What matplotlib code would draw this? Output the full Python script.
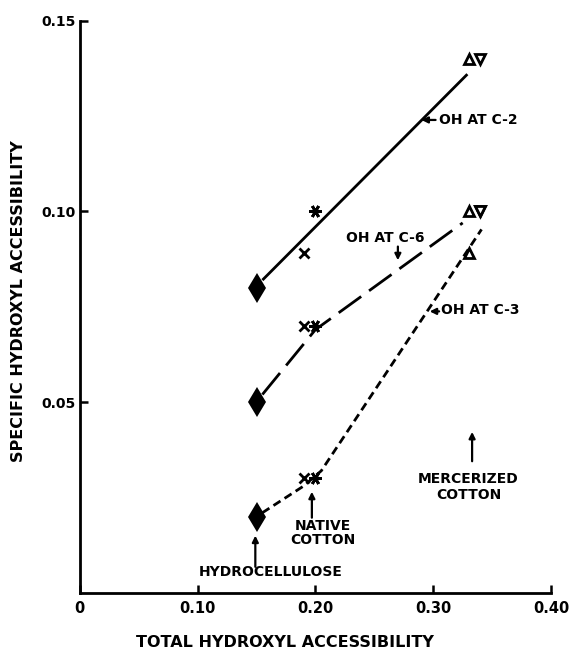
import matplotlib
matplotlib.use("Agg")
import matplotlib.pyplot as plt

plt.rcParams['font.family'] = ['DejaVu Sans']
plt.rcParams['font.weight'] = 'bold'
plt.rcParams['lines.scale_dashes'] = False

# ---- data ----
x_hydro = 0.15
x_native_a = 0.19
x_native_b = 0.20
x_merc_a = 0.33
x_merc_b = 0.34

c2_points = {"hydro": 0.080, "native_a": 0.089, "native_b": 0.100, "merc_a": 0.140, "merc_b": 0.140}
c6_points = {"hydro": 0.050, "native_a": 0.070, "native_b": 0.070, "merc_a": 0.100, "merc_b": 0.100}
c3_points = {"hydro": 0.020, "native_a": 0.030, "native_b": 0.030, "merc_a": 0.089, "merc_b": 0.100}

c2_line_x = [0.155, 0.329]
c2_line_y = [0.082, 0.136]
c6_line_x = [0.155, 0.200, 0.325]
c6_line_y = [0.052, 0.069, 0.097]
c3_line_x = [0.155, 0.190, 0.205, 0.341]
c3_line_y = [0.021, 0.028, 0.032, 0.0953]

x_ticks = [0, 0.10, 0.20, 0.30, 0.40]
x_ticklabels = ["0", "0.10", "0.20", "0.30", "0.40"]
y_ticks = [0.05, 0.10, 0.15]
y_ticklabels = ["0.05", "0.10", "0.15"]

fig = plt.figure(figsize=(5.74, 6.5), dpi=100)
ax = fig.add_axes([0.139, 0.088, 0.821, 0.880])
ax.set_xlim(0, 0.40)
ax.set_ylim(0, 0.15)

for s in ['top', 'right']:
    ax.spines[s].set_visible(False)
for s in ['left', 'bottom']:
    ax.spines[s].set_linewidth(2.0)

ax.set_xticks(x_ticks)
ax.set_xticklabels(x_ticklabels, fontsize=10.5, fontweight='bold')
ax.set_yticks(y_ticks)
ax.set_yticklabels(y_ticklabels, fontsize=10, fontweight='bold')
ax.tick_params(axis='both', direction='in', length=6, width=1.8, pad=6)
ax.tick_params(axis='y', pad=3)

ax.set_xlabel("TOTAL HYDROXYL ACCESSIBILITY", fontsize=11.5, fontweight='bold')
ax.set_ylabel("SPECIFIC HYDROXYL ACCESSIBILITY", fontsize=11.5, fontweight='bold')
ax.xaxis.set_label_coords(0.435, -0.073)
ax.yaxis.set_label_coords(-0.115, 0.51)

lw = 2.0
ax.plot(c2_line_x, c2_line_y, color='black', lw=lw, solid_capstyle='butt')
ax.plot(c6_line_x, c6_line_y, color='black', lw=lw, linestyle=(0, (20, 7)))
ax.plot(c3_line_x, c3_line_y, color='black', lw=lw, linestyle=(0, (6, 3.5)))

star = (6, 2, 90)
for pts in (c2_points, c6_points, c3_points):
    ax.plot([x_hydro], [pts["hydro"]], marker='d', color='black', ms=15,
            markeredgewidth=0, linestyle='none')
    ax.plot([x_native_a], [pts["native_a"]], marker='x', color='black', ms=7,
            markeredgewidth=2, linestyle='none')
    ax.plot([x_native_b], [pts["native_b"]], marker=star, color='black', ms=9,
            markeredgewidth=2, linestyle='none')
    ax.plot([x_merc_a], [pts["merc_a"]], marker='^', mfc='white', mec='black', ms=7,
            markeredgewidth=2, linestyle='none')
    ax.plot([x_merc_b], [pts["merc_b"]], marker='v', mfc='white', mec='black', ms=7,
            markeredgewidth=2, linestyle='none')

arrow = dict(arrowstyle='-|>', color='black', lw=1.6, mutation_scale=9,
             shrinkA=0, shrinkB=0)
fs = 10

ax.text(0.305, 0.124, "OH AT C-2", fontsize=fs, fontweight='bold', ha='left', va='center')
ax.annotate('', xy=(0.290, 0.124), xytext=(0.302, 0.124), arrowprops=arrow)

ax.text(0.259, 0.093, "OH AT C-6", fontsize=fs, fontweight='bold', ha='center', va='center')
ax.annotate('', xy=(0.270, 0.0872), xytext=(0.270, 0.0908), arrowprops=arrow)

ax.text(0.307, 0.0742, "OH AT C-3", fontsize=fs, fontweight='bold', ha='left', va='center')
ax.annotate('', xy=(0.297, 0.0738), xytext=(0.305, 0.0738), arrowprops=arrow)

ax.text(0.206, 0.0157, "NATIVE\nCOTTON", fontsize=fs, fontweight='bold', ha='center',
        va='center', linespacing=1.0)
ax.annotate('', xy=(0.197, 0.0265), xytext=(0.197, 0.0197), arrowprops=arrow)

ax.text(0.162, 0.0055, "HYDROCELLULOSE", fontsize=fs, fontweight='bold', ha='center', va='center')
ax.annotate('', xy=(0.149, 0.0150), xytext=(0.149, 0.0068), arrowprops=arrow)

ax.text(0.330, 0.0278, "MERCERIZED\nCOTTON", fontsize=fs, fontweight='bold', ha='center',
        va='center', linespacing=1.2)
ax.annotate('', xy=(0.333, 0.0422), xytext=(0.333, 0.0345), arrowprops=arrow)

fig.savefig("out.png", dpi=100, facecolor='white')
